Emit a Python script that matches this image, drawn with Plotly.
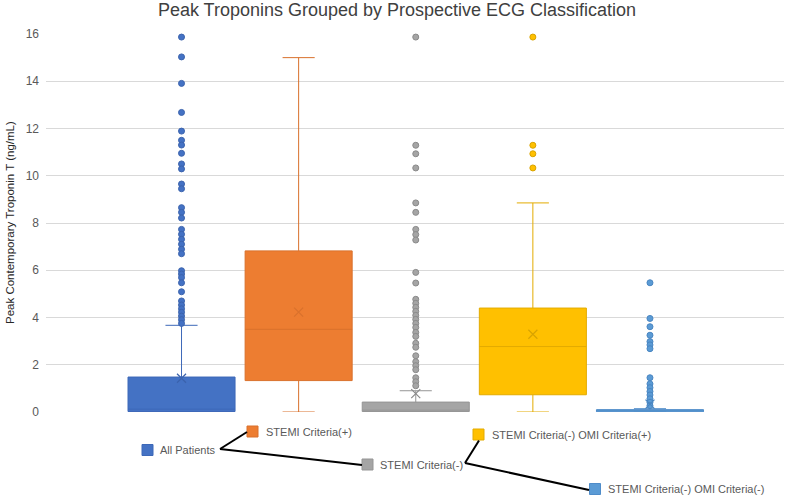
import plotly.graph_objects as go

# ---------------- data ----------------
categories = [
    "All Patients",
    "STEMI Criteria(+)",
    "STEMI Criteria(-)",
    "STEMI Criteria(-) OMI Criteria(+)",
    "STEMI Criteria(-) OMI Criteria(-)",
]
q1 = [0.02, 1.33, 0.02, 0.73, 0.01]
median = [0.12, 3.50, 0.08, 2.77, 0.04]
q3 = [1.48, 6.82, 0.42, 4.40, 0.10]
lower_whisker = [0.0, 0.0, 0.0, 0.0, 0.0]
upper_whisker = [3.67, 15.0, 0.90, 8.85, 0.14]
means = [1.43, 4.23, 0.78, 3.29, 0.33]

outliers_all = [15.87, 15.03, 13.91, 12.68, 11.89, 11.50, 11.30, 10.95, 10.50, 10.29,
                9.65, 9.45, 8.65, 8.45, 8.21, 7.73, 7.52, 7.31, 7.10, 6.89, 6.70,
                5.98, 5.84, 5.69, 5.47, 5.09, 4.70, 4.53, 4.37, 4.22, 4.06, 3.91, 3.75]
outliers_stemi_pos = []
outliers_stemi_neg = [15.87, 11.29, 10.93, 10.33, 8.85, 8.45, 7.73, 7.51, 7.28, 5.91,
                      5.46, 4.77, 4.60, 4.43, 4.26, 4.09, 3.92, 3.75, 3.58, 3.37, 3.20,
                      2.91, 2.74, 2.38, 2.13, 1.96, 1.79, 1.45, 1.28, 1.11]
outliers_omi_pos = [15.87, 11.29, 10.93, 10.33]
outliers_omi_neg = [5.47, 3.96, 3.61, 3.25, 2.98, 2.84, 2.68, 1.45, 1.19, 1.03, 0.87,
                    0.72, 0.56, 0.41, 0.27]
outliers = [outliers_all, outliers_stemi_pos, outliers_stemi_neg, outliers_omi_pos, outliers_omi_neg]

y_ticks = [0, 2, 4, 6, 8, 10, 12, 14, 16]

title_text = "Peak Troponins Grouped by Prospective ECG Classification"
y_title = "Peak Contemporary Troponin T (ng/mL)"

# ---------------- styles ----------------
fills = ["#4472C4", "#ED7D31", "#A5A5A5", "#FFC000", "#5B9BD5"]
edges = ["#3D68B8", "#D9712C", "#959595", "#E3AB00", "#4F8CC9"]
marker_edges = ["#3B63AD", "#D9712C", "#8A8A8A", "#D9A300", "#4A86C2"]

W_FIG, H_FIG = 794, 497
L, R, T, B = 46, 10, 34, 412  # plot area pixel bounds
PW = W_FIG - L - R
PH = B - T


def px(x):
    return (x - L) / PW


def py(y):
    return (B - y) / PH


fig = go.Figure()

positions = list(range(len(categories)))

for i, name in enumerate(categories):
    fig.add_trace(go.Box(
        x=[positions[i]],
        q1=[q1[i]], median=[median[i]], q3=[q3[i]],
        lowerfence=[lower_whisker[i]], upperfence=[upper_whisker[i]],
        name=name,
        width=0.914,
        whiskerwidth=0.3,
        fillcolor=fills[i],
        line=dict(color=edges[i], width=1),
        boxpoints=False,
        showlegend=False,
        hoverinfo="skip",
    ))

for i, name in enumerate(categories):
    if outliers[i]:
        fig.add_trace(go.Scatter(
            x=[positions[i]] * len(outliers[i]), y=outliers[i],
            mode="markers",
            marker=dict(size=6, color=fills[i], line=dict(color=marker_edges[i], width=1)),
            showlegend=False, cliponaxis=False, hoverinfo="skip",
        ))
    fig.add_trace(go.Scatter(
        x=[positions[i]], y=[means[i]], mode="markers",
        marker=dict(symbol="x-thin", size=9, line=dict(color=marker_edges[i], width=1.2)),
        showlegend=False, cliponaxis=False, hoverinfo="skip",
    ))

spacing = 117.1
x_lo = -(181.5 - L) / spacing
x_hi = (len(categories) - 1) + (W_FIG - R - 650) / spacing

fig.update_layout(
    width=W_FIG, height=H_FIG,
    margin=dict(l=L, r=R, t=T, b=H_FIG - B, pad=0),
    paper_bgcolor="white", plot_bgcolor="white",
    font=dict(family="Liberation Sans, Arial, sans-serif", color="#595959"),
    title=dict(text=title_text, x=0.5, xref="container", xanchor="center",
               y=1 - 10 / H_FIG, yref="container", yanchor="middle",
               font=dict(size=18, color="#404040")),
    xaxis=dict(range=[x_lo, x_hi], showticklabels=False, showgrid=False,
               zeroline=False, showline=False, ticks=""),
    yaxis=dict(range=[0, 16], tickvals=y_ticks, showgrid=True, gridcolor="#D9D9D9",
               gridwidth=1, zeroline=False, showline=False, ticks="",
               tickfont=dict(size=12, color="#595959"), ticklabelstandoff=6),
    showlegend=False,
)

# y-axis title
fig.add_annotation(text=y_title, xref="paper", yref="paper", x=px(10), y=py(223),
                   textangle=-90, showarrow=False, xanchor="center", yanchor="middle",
                   font=dict(size=11.5, color="#262626"))

# custom tree-style legend
legend_pos = [  # square left, square top, text left, text center y
    (142, 444.5, 158, 450),
    (247, 426, 264, 431.5),
    (362, 459, 378, 464.5),
    (473, 429, 490, 434.5),
    (589.5, 483.5, 606, 489),
]
SQ = 11
for i, (sx, sy, tx, ty) in enumerate(legend_pos):
    fig.add_shape(type="rect", xref="paper", yref="paper",
                  x0=px(sx), x1=px(sx + SQ), y0=py(sy + SQ), y1=py(sy),
                  fillcolor=fills[i], line=dict(color=edges[i], width=1), layer="above")
    fig.add_annotation(text=categories[i], xref="paper", yref="paper",
                       x=px(tx), y=py(ty), xanchor="left", yanchor="middle",
                       showarrow=False, font=dict(size=11, color="#595959"))

connectors = [
    ((220, 449), (247, 432)),
    ((220, 449), (362, 465)),
    ((465, 463), (479, 440.5)),
    ((465, 463), (589, 490)),
]
for (x0, y0), (x1, y1) in connectors:
    fig.add_shape(type="line", xref="paper", yref="paper",
                  x0=px(x0), y0=py(y0), x1=px(x1), y1=py(y1),
                  line=dict(color="black", width=2))

fig.write_html("out.html", config={"displayModeBar": False},
               post_script="document.body.style.margin='0';document.body.style.overflow='hidden';")
